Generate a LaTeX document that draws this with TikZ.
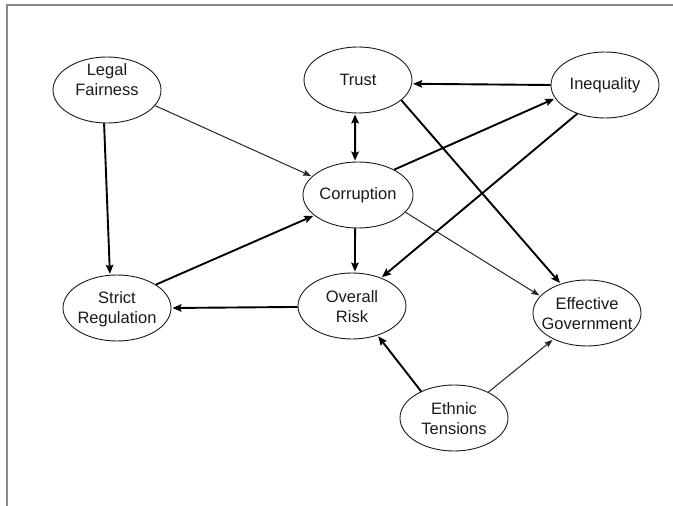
\documentclass[tikz,border=0pt]{standalone}
\usepackage{fontspec}
\setmainfont{Liberation Sans}
\usetikzlibrary{arrows.meta,shapes.geometric}

\definecolor{framegray}{HTML}{888888}
\definecolor{inkcol}{HTML}{1A1A1A}

\tikzset{
  bubble/.style={ellipse, draw=inkcol, line width=0.9pt, inner sep=0pt,
                 minimum width=#1, minimum height=66pt},
  bubble/.default=108pt,
  lbl/.style={align=center, text=inkcol, inner sep=0pt,
              font=\fontsize{16.5pt}{20pt}\selectfont},
  strong/.style={draw=black, line width=1.9pt,
                 -{Stealth[length=9pt,width=7.5pt,inset=1.5pt]}, shorten >=1pt},
  light/.style={draw=black!85, line width=1.0pt,
                -{Stealth[length=8pt,width=6pt,inset=1.2pt]}, shorten >=1pt},
  both/.style={draw=black, line width=1.9pt,
               {Stealth[length=9pt,width=7.5pt,inset=1.5pt]}-{Stealth[length=9pt,width=7.5pt,inset=1.5pt]},
               shorten >=1pt, shorten <=1pt},
}

\begin{document}
\begin{tikzpicture}[x=1pt,y=-1pt]
  \useasboundingbox (0,0) rectangle (673,506);

  % frame: top and left edges only
  \draw[framegray, line width=2pt] (6.5,506) -- (6.5,5) -- (673,5);

  % variables
  \node[bubble] (lf) at (107,90)  {};
  \node[bubble] (tr) at (358,80)  {};
  \node[bubble] (iq) at (605,85)  {};
  \node[bubble=110pt] (co) at (358,195) {};
  \node[bubble] (ov) at (352,306) {};
  \node[bubble] (sr) at (117,308) {};
  \node[bubble] (eg) at (587,313) {};
  \node[bubble] (et) at (454,418) {};

  % labels
  \node[lbl] (lf-t) at (107,80)  {Legal\\Fairness};
  \node[lbl] (tr-t) at (358,80)  {Trust};
  \node[lbl] (iq-t) at (605,85)  {Inequality};
  \node[lbl] (co-t) at (358,195) {Corruption};
  \node[lbl] (ov-t) at (352,307) {Overall\\Risk};
  \node[lbl] (sr-t) at (117,309) {Strict\\Regulation};
  \node[lbl] (eg-t) at (587,314) {Effective\\Government};
  \node[lbl] (et-t) at (454,419) {Ethnic\\Tensions};

  % influences
  \draw[strong] (lf.-95)  -- (sr.102);
  \draw[light]  (lf.-18)  -- (co.158);
  \draw[strong] (sr.31)   -- (co.205);
  \draw[both]   (tr.-95)  -- (co.95);
  \draw[strong] (iq.180)  -- (tr.-4);
  \draw[strong] (co.35)   -- (iq.195);
  \draw[strong] (iq.226)  -- (ov.44);
  \draw[strong] (tr.-25)  -- (eg.132);
  \draw[light]  (co.-20)  -- (eg.160);
  \draw[strong] (co.-95)  -- (ov.85);
  \draw[strong] (ov.181)  -- (sr.0);
  \draw[strong] (et.141)  -- (ov.-49);
  \draw[light]  (et.37)   -- (eg.-142);
\end{tikzpicture}
\end{document}
